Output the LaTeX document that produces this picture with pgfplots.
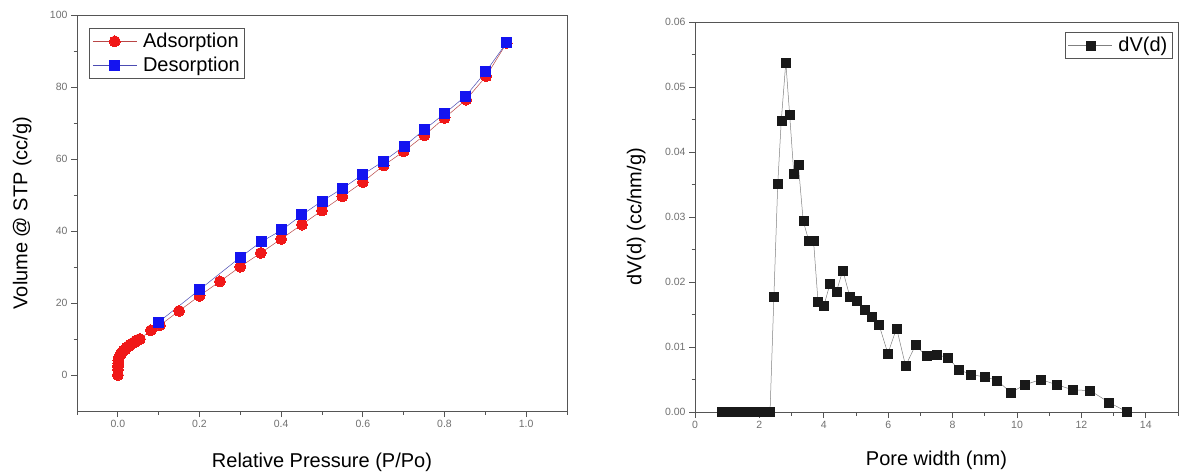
\documentclass[border=0pt]{standalone}
\usepackage{pgfplots}
\pgfplotsset{compat=1.18}
\usepackage{fontspec}
\setmainfont{Liberation Sans}
\definecolor{axgray}{HTML}{555555}
\definecolor{tickgray}{HTML}{707070}
\definecolor{adsred}{HTML}{F01818}
\definecolor{desblue}{HTML}{1414F0}

\pgfplotsset{
  panel/.style={
    scale only axis, anchor=south west,
    axis line style={axgray, line width=1pt},
    every tick/.style={axgray, line width=0.8pt},
    tick align=outside, xtick pos=left, ytick pos=left,
    major tick length=6pt, minor tick length=3.5pt,
    ticklabel style={font=\fontsize{10.5}{12}\selectfont, text=tickgray},
    /pgf/number format/assume math mode=true,
    label style={font=\fontsize{20}{24}\selectfont},
    legend style={font=\fontsize{20}{24}\selectfont, draw=axgray, line width=0.6pt,
      inner xsep=3pt, inner ysep=3pt, row sep=4pt,
      /tikz/every odd column/.append style={column sep=4pt}},
    legend cell align=left,
    legend image code/.code={
      \draw[mark repeat=2,mark phase=2,##1] plot coordinates {(0pt,0pt) (22pt,0pt) (44pt,0pt)};},
  }
}

\begin{document}
\begin{tikzpicture}
\path[use as bounding box] (0,0) rectangle (1180pt,475pt);

% isotherm
\begin{axis}[panel, at={(77pt,64pt)}, width=490pt, height=396pt,
  xmin=-0.1, xmax=1.1, ymin=-10, ymax=100,
  xtick={0,0.2,...,1.0}, minor xtick={-0.1,0.1,0.3,0.5,0.7,0.9,1.1},
  ytick={0,20,...,100}, minor ytick={10,30,50,70,90},
  xticklabel style={/pgf/number format/.cd, fixed, fixed zerofill, precision=1},
  xlabel={Relative Pressure (P/Po)}, ylabel={Volume @ STP (cc/g)},
  x label style={at={(axis description cs:0.5,-0.129)}, anchor=center},
  y label style={at={(axis description cs:-0.112,0.5)}, anchor=center},
  legend style={at={(rel axis cs:0.025,0.967)}, anchor=north west}]
\addplot[red!45!gray, line width=0.5pt, mark=*, mark size=5.5pt,
  mark options={fill=adsred, draw=adsred, line width=0pt}] coordinates {
 (0.0001,0.0)(0.0003,1.5)(0.0006,2.5)(0.001,3.3)(0.0015,4.0)(0.002,4.6)
 (0.004,5.2)(0.007,5.8)(0.010,6.3)(0.014,6.8)(0.018,7.2)(0.022,7.6)
 (0.026,8.0)(0.030,8.4)(0.035,8.8)(0.040,9.1)(0.045,9.5)(0.050,9.8)
 (0.054,10.0)(0.081,12.4)(0.103,13.8)(0.150,17.8)(0.200,22.0)(0.250,26.0)
 (0.300,30.1)(0.350,33.9)(0.400,37.8)(0.451,41.8)(0.500,45.7)(0.550,49.6)
 (0.600,53.6)(0.651,58.2)(0.700,62.1)(0.751,66.6)(0.800,71.4)(0.853,76.5)
 (0.902,83.0)(0.952,92.2)};
\addplot[blue!40!gray, line width=0.5pt, mark=square*, mark size=5pt,
  mark options={fill=desblue, draw=desblue, line width=0pt}] coordinates {
 (0.952,92.3)(0.901,84.2)(0.852,77.5)(0.800,72.6)(0.751,68.2)(0.702,63.6)
 (0.651,59.4)(0.600,55.7)(0.551,51.9)(0.500,48.3)(0.451,44.5)(0.402,40.3)
 (0.351,37.0)(0.300,32.7)(0.200,23.7)(0.100,14.7)};
\legend{Adsorption, Desorption}
\end{axis}

% pore size distribution
\begin{axis}[panel, at={(695pt,63pt)}, width=483pt, height=390pt,
  xmin=0, xmax=15, ymin=0, ymax=0.06,
  xtick={0,2,...,14}, minor xtick={1,3,...,15},
  ytick={0,0.01,...,0.06}, minor ytick={0.005,0.015,...,0.055},
  yticklabel style={/pgf/number format/.cd, fixed, fixed zerofill, precision=2},
  scaled y ticks=false,
  xlabel={Pore width (nm)}, ylabel={dV(d) (cc/nm/g)},
  x label style={at={(axis description cs:0.5,-0.123)}, anchor=center},
  y label style={at={(axis description cs:-0.122,0.5)}, anchor=center},
  legend style={at={(rel axis cs:0.989,0.974)}, anchor=north east}]
\addplot[gray, line width=0.5pt, mark=square*, mark size=4.5pt,
  mark options={fill=black!90, draw=black!90, line width=0.3pt}] coordinates {
 (0.83,0)(0.93,0)(1.03,0)(1.13,0)(1.23,0)(1.33,0)(1.43,0)(1.53,0)
 (1.63,0)(1.73,0)(1.83,0)(1.93,0)(2.03,0)(2.13,0)(2.23,0)(2.33,0)
 (2.45,0.0178)(2.57,0.0351)(2.68,0.0449)(2.82,0.0538)(2.94,0.0457)
 (3.07,0.0366)(3.21,0.0380)(3.36,0.0294)(3.53,0.0264)(3.68,0.0264)
 (3.82,0.0170)(4.00,0.0163)(4.19,0.0197)(4.39,0.0185)(4.59,0.0218)
 (4.81,0.0177)(5.02,0.0171)(5.26,0.0157)(5.48,0.0147)(5.71,0.0135)
 (5.99,0.0090)(6.26,0.0129)(6.54,0.0071)(6.85,0.0103)(7.18,0.0086)
 (7.51,0.0088)(7.84,0.0084)(8.20,0.0065)(8.56,0.0058)(8.98,0.0054)
 (9.37,0.0049)(9.81,0.0030)(10.25,0.0042)(10.74,0.0050)(11.23,0.0042)
 (11.74,0.0034)(12.27,0.0033)(12.85,0.0015)(13.42,0.0000)};
\legend{dV(d)}
\end{axis}
\end{tikzpicture}
\end{document}
